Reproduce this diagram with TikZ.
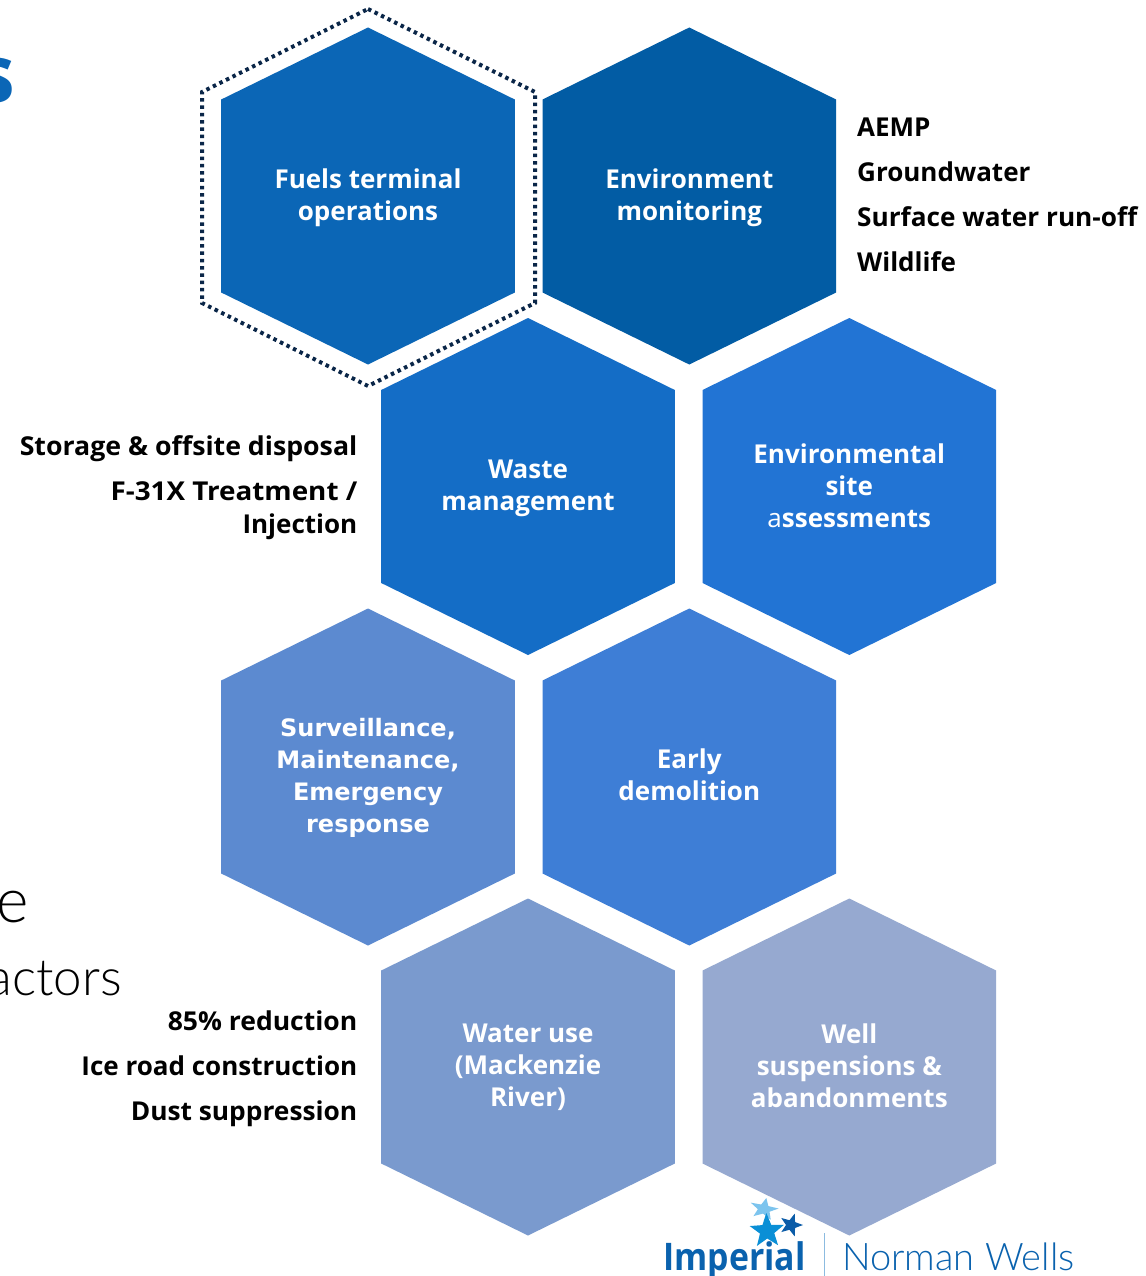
\documentclass[tikz,border=0pt]{standalone}
\usepackage{fontspec}
\usetikzlibrary{shapes.geometric}
\setmainfont{Open Sans}
\newfontfamily\widefont{DejaVu Sans}
\newfontfamily\lightfont{Lato Light}
\definecolor{cFuels}{HTML}{0B66B6}
\definecolor{cMon}{HTML}{025CA4}
\definecolor{cWaste}{HTML}{146DC6}
\definecolor{cSite}{HTML}{2274D4}
\definecolor{cSurv}{HTML}{5C8AD0}
\definecolor{cEarly}{HTML}{3E7ED6}
\definecolor{cWater}{HTML}{7A9ACE}
\definecolor{cWell}{HTML}{96A9D0}
\definecolor{cDots}{HTML}{0A2648}
\definecolor{cTitle}{HTML}{0B66B6}
\definecolor{cLogo}{HTML}{0A62AE}
\definecolor{cStarA}{HTML}{7CC4EE}
\definecolor{cStarB}{HTML}{0A8FD6}
\definecolor{cStarC}{HTML}{0B5CA8}
\definecolor{cBar}{HTML}{8CBBE0}
\tikzset{
  hexlabel/.style={text=white,font=\fontsize{26}{32}\selectfont\bfseries,align=center,inner sep=0pt},
  sidelabel/.style={text=black,font=\fontsize{26}{33}\selectfont\bfseries,inner sep=0pt},
  bigtext/.style={text=black,inner sep=0pt,anchor=base east},
  logostar/.style={star,star points=5,star point ratio=2.4,inner sep=0pt,draw=none}
}
% name, centre x, centre y, colour, label y, label
\newcommand{\hexa}[6]{%
  \fill[#4] (#2,#3-168.5) -- (#2+146.8,#3-96.5) -- (#2+146.8,#3+96.5) -- (#2,#3+168.5) -- (#2-146.8,#3+96.5) -- (#2-146.8,#3-96.5) -- cycle;
  \node[hexlabel] (#1) at (#2,#5) {#6};
}
\newcommand{\wf}{\widefont\fontsize{24}{32}\selectfont}
\begin{document}
\begin{tikzpicture}[x=1pt,y=-1pt]
\clip (0,0) rectangle (1145,1276);
\fill[white] (0,0) rectangle (1145,1276);
\hexa{fuels}{368}{196}{cFuels}{198}{Fuels terminal\\operations}
\hexa{mon}{689.3}{196}{cMon}{198}{Environment\\monitoring}
\hexa{waste}{528}{486.5}{cWaste}{488}{Waste\\management}
\hexa{site}{849.3}{486.5}{cSite}{486}{Environmental\\site\\{\mdseries a}ssessments}
\hexa{surv}{368}{777}{cSurv}{778}{\wf Surveillance,\\\wf Maintenance,\\\wf Emergency\\\wf response}
\hexa{early}{689.3}{777}{cEarly}{775}{Early\\demolition}
\hexa{water}{528}{1067}{cWater}{1067}{Water use\\(Mackenzie\\River)}
\hexa{well}{849.3}{1067}{cWell}{1065.5}{Well\\suspensions \&\\abandonments}
\draw[cDots,line width=4pt,dash pattern=on 3.5pt off 3.8pt] (368,9) -- (535,92) -- (535,303) -- (368,386) -- (202,303) -- (202,92) -- cycle;
\node[sidelabel,anchor=base west] (aemp) at (857,137) {AEMP};
\node[sidelabel,anchor=base west] (gw) at (857,182) {Groundwater};
\node[sidelabel,anchor=base west] (sw) at (857,226) {\scalebox{1.007}[1]{Surface water run-off}};
\node[sidelabel,anchor=base west] (wild) at (857,271) {Wildlife};
\node[sidelabel,anchor=base east] (stor) at (357.5,455) {\scalebox{1.027}[1]{Storage \& offsite disposal}};
\node[sidelabel,anchor=base east] (f31) at (357.5,500) {\scalebox{1.07}[1]{F-31X Treatment /}};
\node[sidelabel,anchor=base east] (inj) at (357.5,533) {Injection};
\node[sidelabel,anchor=base east] (red) at (357.5,1030) {\scalebox{1.02}[1]{85\% reduction}};
\node[sidelabel,anchor=base east] (ice) at (357.5,1075) {Ice road construction};
\node[sidelabel,anchor=base east] (dust) at (357.5,1120) {\scalebox{1.012}[1]{Dust suppression}};
\node[text=cTitle,font=\fontsize{80}{80}\selectfont\bfseries,inner sep=0pt,anchor=base east] (ts) at (15,103) {s};
\node[bigtext,font=\lightfont\fontsize{62}{62}\selectfont] (te) at (29,922) {e};
\node[bigtext,font=\lightfont\fontsize{51}{51}\selectfont] (tf) at (122,995) {actors};
\node[logostar,fill=cStarA,minimum size=30pt,rotate=-12,yscale=0.75] (s1) at (764,1209) {};
\node[logostar,fill=cStarC,minimum size=24pt,rotate=-18] (s3) at (791,1225) {};
\node[logostar,fill=cStarB,minimum size=36pt,rotate=2] (s2) at (767,1231) {};
\node[text=cLogo,font=\fontsize{38}{38}\selectfont\bfseries,inner sep=0pt,anchor=base west] (imp) at (663,1270) {\scalebox{0.89}[1]{Imperial}};
\draw[cBar,line width=1pt] (824,1233) -- (824,1276);
\node[text=cLogo,font=\lightfont\fontsize{38}{38}\selectfont,inner sep=0pt,anchor=base west] (nw) at (842,1270) {Norman Wells};
\end{tikzpicture}
\end{document}
